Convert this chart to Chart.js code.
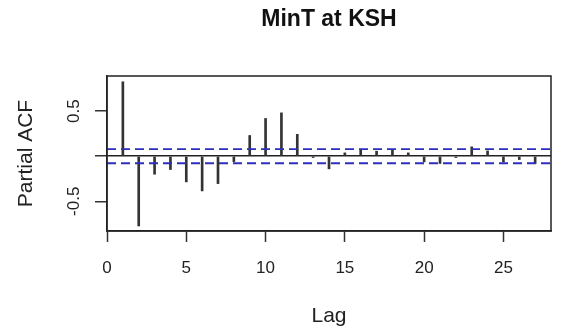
<!DOCTYPE html>
<html>
<head>
<meta charset="utf-8">
<script src="https://cdn.jsdelivr.net/npm/chart.js@4.4.1/dist/chart.umd.min.js"></script>
<style>
  body { margin: 0; background: #fff; }
  #wrap { width: 561px; height: 332px; }
</style>
</head>
<body>
<div id="wrap"><canvas id="myChart" width="561" height="332"></canvas></div>
<script>
// partial autocorrelation
var lags = [1, 2, 3, 4, 5, 6, 7, 8, 9, 10, 11, 12, 13, 14, 15, 16, 17, 18, 19, 20, 21, 22, 23, 24, 25, 26, 27];
var pacf = [0.826, -0.774, -0.20, -0.148, -0.285, -0.385, -0.304, -0.06, 0.23, 0.419, 0.481, 0.243,
            -0.015, -0.14, 0.037, 0.067, 0.056, 0.067, 0.037, -0.063, -0.081, -0.015, 0.104, 0.059,
            -0.063, -0.037, -0.081];
var ciBound = 0.078;
var xMin = 0, xMax = 28;
var yMin = -0.83, yMax = 0.89;
var xTickStep = 5, yTickStep = 0.5;

var fontFam = "'Liberation Sans', Arial, Helvetica, sans-serif";

var bars = lags.map(function(l, i) { return {x: l, y: pacf[i]}; });
var upper = [{x: xMin, y: ciBound}, {x: xMax, y: ciBound}];
var lower = [{x: xMin, y: -ciBound}, {x: xMax, y: -ciBound}];

// box round the plot, like R's box()
var boxPlugin = {
  id: 'box',
  afterDraw: function(chart) {
    var a = chart.chartArea, c = chart.ctx;
    c.save();
    c.strokeStyle = '#222';
    c.lineWidth = 1.5;
    c.strokeRect(a.left, a.top, a.right - a.left, a.bottom - a.top);
    c.restore();
  }
};

var ctx = document.getElementById('myChart');
var chart = new Chart(ctx, {
  type: 'bar',
  data: {
    datasets: [{
      type: 'bar',
      data: bars,
      backgroundColor: '#333',
      borderWidth: 0,
      barThickness: 2,
      order: 2
    }, {
      type: 'line',
      data: upper,
      borderColor: 'rgb(45,45,190)',
      borderWidth: 1.8,
      borderDash: [9, 5],
      pointRadius: 0,
      order: 1
    }, {
      type: 'line',
      data: lower,
      borderColor: 'rgb(45,45,190)',
      borderWidth: 1.8,
      borderDash: [9, 5],
      pointRadius: 0,
      order: 1
    }]
  },
  options: {
    responsive: false,
    animation: false,
    events: [],
    layout: { padding: { left: 0, right: 10, top: 0, bottom: 0 } },
    plugins: {
      legend: { display: false },
      tooltip: { enabled: false },
      title: {
        display: true,
        text: 'MinT at KSH',
        fullSize: false,
        color: '#111',
        font: { family: fontFam, size: 23, weight: 'bold', lineHeight: 1.2 },
        padding: { top: 6, bottom: 42.4 }
      }
    },
    scales: {
      x: {
        type: 'linear',
        min: xMin,
        max: xMax,
        offset: false,
        grid: { offset: false, drawOnChartArea: false, tickLength: 11, tickColor: '#333', tickWidth: 1.5 },
        border: { color: '#222', width: 1.5 },
        ticks: {
          stepSize: xTickStep,
          includeBounds: false,
          color: '#222',
          padding: 16,
          maxRotation: 0,
          font: { family: fontFam, size: 17 }
        },
        title: {
          display: true,
          text: 'Lag',
          color: '#222',
          font: { family: fontFam, size: 21 },
          padding: { top: 0, bottom: 3 }
        },
        afterFit: function(s) { s.height = 101; }
      },
      y: {
        type: 'linear',
        min: yMin,
        max: yMax,
        grid: {
          drawOnChartArea: true,
          color: function(c) { return c.tick && c.tick.value === 0 ? '#222' : 'rgba(0,0,0,0)'; },
          lineWidth: 1.5,
          tickLength: 12,
          tickColor: '#333',
          tickWidth: 1.5
        },
        border: { color: '#222', width: 1.5 },
        ticks: {
          stepSize: yTickStep,
          includeBounds: false,
          minRotation: 90,
          maxRotation: 90,
          crossAlign: 'center',
          padding: 6,
          color: '#222',
          font: { family: fontFam, size: 17 },
          callback: function(v) { return v === 0 ? '' : String(v); }
        },
        title: {
          display: true,
          text: 'Partial ACF',
          color: '#222',
          font: { family: fontFam, size: 21 },
          padding: { top: 14, bottom: 0 }
        },
        afterFit: function(s) { s.width = 107; }
      }
    }
  },
  plugins: [boxPlugin]
});
</script>
</body>
</html>
